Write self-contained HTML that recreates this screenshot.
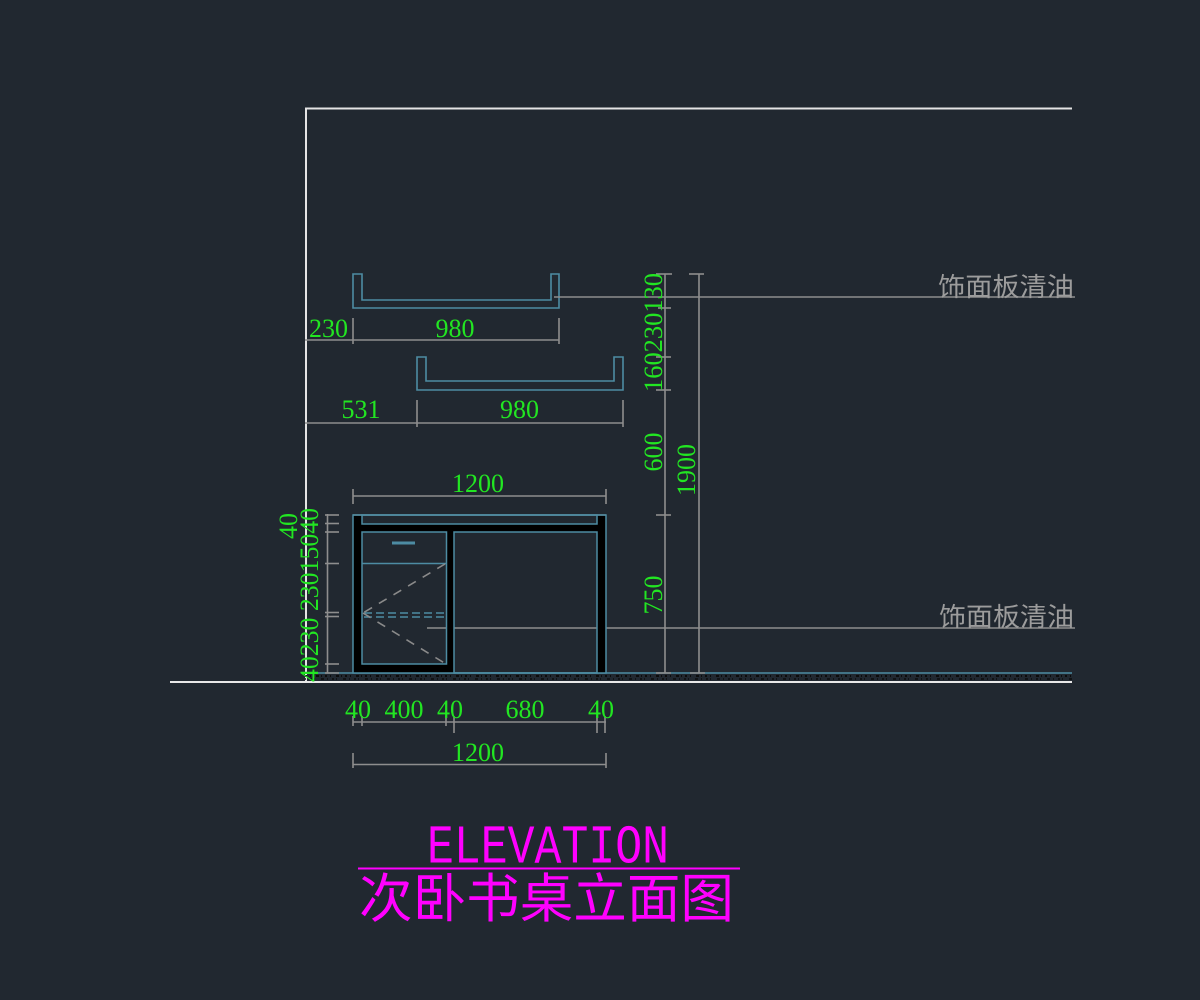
<!DOCTYPE html>
<html><head><meta charset="utf-8"><style>
html,body{margin:0;padding:0;background:#212830;}
svg{display:block;}
.g{font-family:"Liberation Serif",serif;font-size:26px;fill:#22e622;}
</style></head><body>
<svg width="1200" height="1000" viewBox="0 0 1200 1000" xmlns="http://www.w3.org/2000/svg">
<rect width="1200" height="1000" fill="#212830"/>

<!-- wall & ground -->
<polyline points="306,682 306,108.5 1072,108.5" fill="none" stroke="#e4e4e4" stroke-width="2"/>
<line x1="305" y1="673" x2="1072" y2="673" stroke="#4d8ca3" stroke-width="1.5"/>
<line x1="305" y1="676" x2="1072" y2="676" stroke="#0c0c0c" stroke-width="2" stroke-dasharray="2 3 1 5 3 2 1 3"/>
<line x1="305" y1="679" x2="1072" y2="679" stroke="#0c0c0c" stroke-width="1.5" stroke-dasharray="1 4 2 2 1 6 3 3"/>
<line x1="170" y1="682" x2="1072" y2="682" stroke="#e8e8e8" stroke-width="2"/>

<!-- shelves -->
<g fill="none" stroke="#4d8ca3" stroke-width="1.6">
<path d="M353,274 L353,308 L559,308 L559,274 L551,274 L551,300 L362,300 L362,274 Z"/>
<path d="M417,357 L417,390 L623,390 L623,357 L614,357 L614,381 L426,381 L426,357 Z"/>
</g>

<!-- leader lines + labels -->
<g stroke="#8e8e8e" stroke-width="1.6">
<line x1="554" y1="297" x2="1075" y2="297"/>
<line x1="427" y1="628" x2="1075" y2="628"/>
</g>
<text x="1074" y="296" text-anchor="end" font-family="'Liberation Sans','Noto Sans CJK SC',sans-serif" font-size="26" fill="#9c9c9c" textLength="136" lengthAdjust="spacingAndGlyphs">饰面板清油</text>
<text x="1074" y="626" text-anchor="end" font-family="'Liberation Sans','Noto Sans CJK SC',sans-serif" font-size="26" fill="#9c9c9c" textLength="135" lengthAdjust="spacingAndGlyphs">饰面板清油</text>

<!-- top dimension lines -->
<g stroke="#8e8e8e" stroke-width="1.6" fill="none">
<line x1="305" y1="340" x2="559" y2="340"/>
<line x1="353" y1="318" x2="353" y2="344"/>
<line x1="559" y1="318" x2="559" y2="344"/>
<line x1="305" y1="423" x2="623" y2="423"/>
<line x1="417" y1="400" x2="417" y2="427"/>
<line x1="623" y1="400" x2="623" y2="427"/>
<line x1="353" y1="496" x2="606" y2="496"/>
<line x1="353" y1="489" x2="353" y2="504"/>
<line x1="606" y1="489" x2="606" y2="504"/>
</g>
<text class="g" x="328.5" y="337" text-anchor="middle">230</text>
<text class="g" x="455" y="337" text-anchor="middle">980</text>
<text class="g" x="361" y="418" text-anchor="middle">531</text>
<text class="g" x="519.5" y="418" text-anchor="middle">980</text>
<text class="g" x="478" y="492" text-anchor="middle">1200</text>

<!-- desk -->
<g fill="#000">
<rect x="353" y="515" width="9" height="158"/>
<rect x="597" y="515" width="9" height="158"/>
<rect x="362" y="524" width="235" height="8"/>
<rect x="446.5" y="532" width="7.5" height="141"/>
<rect x="362" y="664" width="85" height="9"/>
</g>
<line x1="353" y1="515" x2="606" y2="515" stroke="#8e8e8e" stroke-width="1.6"/>
<g fill="none" stroke="#4d8ca3" stroke-width="1.5">
<rect x="353" y="515" width="253" height="158"/>
<rect x="362" y="515" width="235" height="9"/>
<rect x="362" y="532" width="84.5" height="132"/>
<line x1="362" y1="563.5" x2="446.5" y2="563.5"/>
<rect x="454" y="532" width="143" height="141"/>
</g>
<line x1="392" y1="543" x2="415" y2="543" stroke="#4d8ca3" stroke-width="3"/>
<g stroke="#4d8ca3" stroke-width="1.6" stroke-dasharray="8 4">
<line x1="364" y1="613" x2="446" y2="613"/>
<line x1="364" y1="617" x2="446" y2="617"/>
</g>
<g stroke="#8a8a8a" stroke-width="1.6" stroke-dasharray="9 8">
<line x1="445" y1="564" x2="363" y2="613"/>
<line x1="363" y1="613" x2="446" y2="664"/>
</g>

<!-- left vertical dims of desk -->
<g stroke="#8e8e8e" stroke-width="1.6">
<line x1="327.5" y1="514" x2="327.5" y2="673"/>
<line x1="325" y1="515" x2="339" y2="515"/>
<line x1="325" y1="523.5" x2="339" y2="523.5"/>
<line x1="325" y1="532" x2="339" y2="532"/>
<line x1="325" y1="563.5" x2="339" y2="563.5"/>
<line x1="325" y1="612.5" x2="339" y2="612.5"/>
<line x1="325" y1="616.5" x2="339" y2="616.5"/>
<line x1="325" y1="664" x2="339" y2="664"/>
<line x1="325" y1="673" x2="339" y2="673"/>
</g>
<text class="g" transform="translate(318,682) rotate(-90)" textLength="174" lengthAdjust="spacingAndGlyphs">40230 23015040</text>
<text class="g" transform="translate(297,526) rotate(-90)" text-anchor="middle">40</text>

<!-- right vertical dims -->
<g stroke="#8e8e8e" stroke-width="1.6">
<line x1="665" y1="274" x2="665" y2="673"/>
<line x1="699" y1="274" x2="699" y2="673"/>
<line x1="656" y1="274" x2="672" y2="274"/>
<line x1="658" y1="308" x2="671" y2="308"/>
<line x1="656" y1="357" x2="671" y2="357"/>
<line x1="656" y1="390" x2="671" y2="390"/>
<line x1="656" y1="515" x2="671" y2="515"/>
<line x1="656" y1="673" x2="671" y2="673"/>
<line x1="689" y1="274" x2="704" y2="274"/>
<line x1="690" y1="673" x2="705" y2="673"/>
</g>
<text class="g" transform="translate(662,392) rotate(-90)" textLength="119" lengthAdjust="spacingAndGlyphs">160230130</text>
<text class="g" transform="translate(662,452) rotate(-90)" text-anchor="middle">600</text>
<text class="g" transform="translate(662,595) rotate(-90)" text-anchor="middle">750</text>
<text class="g" transform="translate(695,470) rotate(-90)" text-anchor="middle">1900</text>

<!-- bottom dims -->
<g stroke="#8e8e8e" stroke-width="1.6">
<line x1="353" y1="722" x2="606" y2="722"/>
<line x1="353" y1="716" x2="353" y2="726"/>
<line x1="362" y1="716" x2="362" y2="726"/>
<line x1="446" y1="716" x2="446" y2="726"/>
<line x1="454" y1="716" x2="454" y2="733"/>
<line x1="597" y1="716" x2="597" y2="733"/>
<line x1="605" y1="716" x2="605" y2="733"/>
<line x1="353" y1="764.5" x2="606" y2="764.5"/>
<line x1="353" y1="753" x2="353" y2="768"/>
<line x1="606" y1="753" x2="606" y2="768"/>
</g>
<text class="g" x="358" y="718" text-anchor="middle">40</text>
<text class="g" x="404" y="718" text-anchor="middle">400</text>
<text class="g" x="450" y="718" text-anchor="middle">40</text>
<text class="g" x="525" y="718" text-anchor="middle">680</text>
<text class="g" x="601" y="718" text-anchor="middle">40</text>
<text class="g" x="478" y="761" text-anchor="middle">1200</text>

<!-- title -->
<text x="427" y="862.5" font-family="'Liberation Mono',monospace" font-size="55" fill="#ff00ff" textLength="242" lengthAdjust="spacingAndGlyphs">ELEVATION</text>
<line x1="358" y1="868.5" x2="740" y2="868.5" stroke="#ff00ff" stroke-width="2"/>
<text x="359" y="917" font-family="'Liberation Sans','Noto Sans CJK SC',sans-serif" font-size="53" fill="#ff00ff" textLength="375" lengthAdjust="spacingAndGlyphs">次卧书桌立面图</text>
</svg>
</body></html>
